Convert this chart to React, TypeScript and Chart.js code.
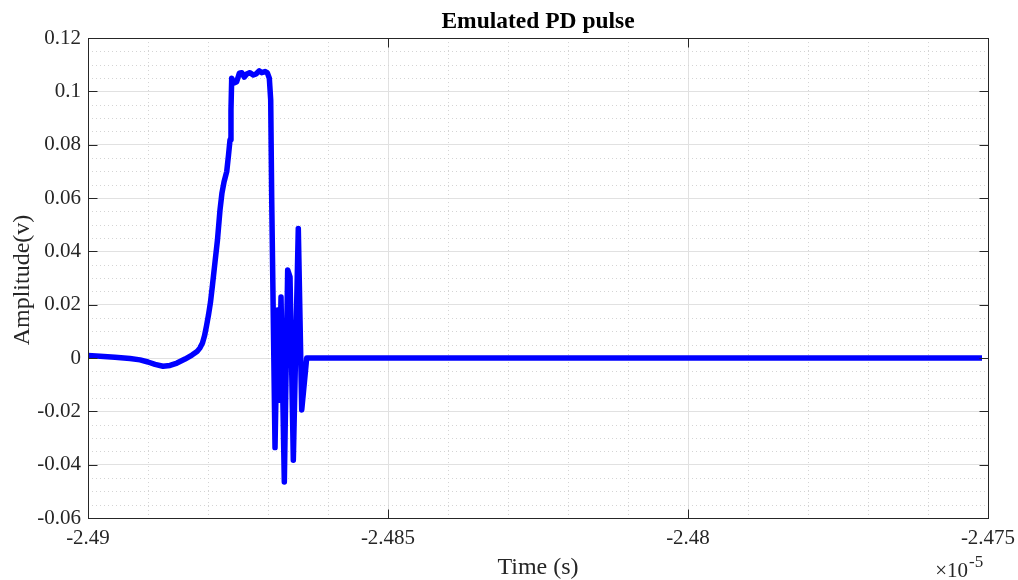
import React, { useEffect, useRef } from "react";
import { Chart, registerables } from "chart.js";

Chart.register(...registerables);

// Time axis values are in units of 1e-5 s (axis exponent shown as ×10^-5)
const TIME = [
  -2.49, -2.4898, -2.48955, -2.4893, -2.489133, -2.489, -2.488883, -2.48875,
  -2.488633, -2.488517, -2.488383, -2.488267, -2.488183, -2.488133, -2.488092,
  -2.488058, -2.488025, -2.487992, -2.487958, -2.487925, -2.487883, -2.487842,
  -2.4878, -2.487767, -2.487733, -2.487688, -2.487658, -2.487633, -2.487617,
  -2.487605, -2.487567, -2.487522, -2.487478, -2.487438, -2.487395, -2.487355,
  -2.4873, -2.487245, -2.4872, -2.487145, -2.487105, -2.48705, -2.487012,
  -2.486978, -2.486955, -2.486938, -2.486883, -2.486842, -2.486817, -2.486783,
  -2.486728, -2.486672, -2.486633, -2.486578, -2.486495, -2.486438, -2.486355,
  -2.4751,
];
const AMPLITUDE = [
  0.0009, 0.0007, 0.0003, -0.0002, -0.0007, -0.0015, -0.0024, -0.0031,
  -0.0028, -0.0019, -0.0004, 0.0011, 0.0024, 0.0038, 0.0056,
  0.0083, 0.012, 0.0161, 0.021, 0.0274, 0.0360, 0.0443,
  0.0555, 0.0619, 0.066, 0.0699, 0.0761, 0.0818, 0.093,
  0.1049, 0.1031, 0.1036, 0.1068, 0.107, 0.1053, 0.1065,
  0.107, 0.1061, 0.1065, 0.1077, 0.107, 0.1074, 0.107,
  0.1049, 0.0968, 0.0593, -0.0336, 0.018, -0.0158, 0.0229,
  -0.0465, 0.033, 0.0304, -0.0383, 0.0486, -0.0195, 0.0,
  0.0,
];

const X_TICKS = [-2.49, -2.485, -2.48, -2.475];
const Y_TICKS = [-0.06, -0.04, -0.02, 0, 0.02, 0.04, 0.06, 0.08, 0.1, 0.12];
const X_MINOR_STEP = 0.001;
const Y_MINOR_STEP = 0.005;

const TITLE = "Emulated PD pulse";
const X_LABEL = "Time (s)";
const Y_LABEL = "Amplitude(v)";
const X_EXP_BASE = "\u00d710";
const X_EXP_POWER = "-5";

const FONT = "'Liberation Serif', 'Times New Roman', serif";
const AXIS_COLOR = "#262626";

const framePlugin = {
  id: "matlabFrame",
  beforeDatasetsDraw(chart: any) {
    const { ctx, chartArea: a, scales } = chart;
    const xs = scales.x;
    const ys = scales.y;
    ctx.save();
    ctx.strokeStyle = "#d4d4d4";
    ctx.lineWidth = 1;
    ctx.setLineDash([1, 3]);
    const xMin = X_TICKS[0];
    const xMax = X_TICKS[X_TICKS.length - 1];
    const nx = Math.round((xMax - xMin) / X_MINOR_STEP);
    for (let i = 0; i <= nx; i++) {
      const v = xMin + i * X_MINOR_STEP;
      if (X_TICKS.some((t) => Math.abs(t - v) < 1e-7)) continue;
      const px = Math.round(xs.getPixelForValue(v)) + 0.5;
      ctx.beginPath();
      ctx.moveTo(px, a.top);
      ctx.lineTo(px, a.bottom);
      ctx.stroke();
    }
    const yMin = Y_TICKS[0];
    const yMax = Y_TICKS[Y_TICKS.length - 1];
    const ny = Math.round((yMax - yMin) / Y_MINOR_STEP);
    for (let i = 0; i <= ny; i++) {
      const v = yMin + i * Y_MINOR_STEP;
      if (Y_TICKS.some((t) => Math.abs(t - v) < 1e-7)) continue;
      const py = Math.round(ys.getPixelForValue(v)) + 0.5;
      ctx.beginPath();
      ctx.moveTo(a.left, py);
      ctx.lineTo(a.right, py);
      ctx.stroke();
    }
    ctx.restore();
  },
  afterDatasetsDraw(chart: any) {
    const { ctx, chartArea: a, scales } = chart;
    const xs = scales.x;
    const ys = scales.y;
    const L = 9;
    ctx.save();
    ctx.strokeStyle = AXIS_COLOR;
    ctx.lineWidth = 1;
    ctx.setLineDash([]);
    const l = Math.round(a.left) + 0.5;
    const r = Math.round(a.right) + 0.5;
    const t = Math.round(a.top) + 0.5;
    const b = Math.round(a.bottom) + 0.5;
    ctx.strokeRect(l, t, r - l, b - t);
    ctx.beginPath();
    X_TICKS.forEach((v) => {
      const px = Math.round(xs.getPixelForValue(v)) + 0.5;
      ctx.moveTo(px, b);
      ctx.lineTo(px, b - L);
      ctx.moveTo(px, t);
      ctx.lineTo(px, t + L);
    });
    Y_TICKS.forEach((v) => {
      const py = Math.round(ys.getPixelForValue(v)) + 0.5;
      ctx.moveTo(l, py);
      ctx.lineTo(l + L, py);
      ctx.moveTo(r, py);
      ctx.lineTo(r - L, py);
    });
    ctx.stroke();
    ctx.restore();
  },
  afterDraw(chart: any) {
    const { ctx, chartArea: a } = chart;
    const cx = (a.left + a.right) / 2;
    const cy = (a.top + a.bottom) / 2;
    ctx.save();
    ctx.fillStyle = "#000000";
    ctx.textAlign = "center";
    ctx.textBaseline = "alphabetic";
    ctx.font = `bold 23.5px ${FONT}`;
    ctx.fillText(TITLE, cx, 28);

    ctx.fillStyle = AXIS_COLOR;
    ctx.font = `24px ${FONT}`;
    ctx.fillText(X_LABEL, cx, 574);

    ctx.save();
    ctx.translate(29, cy + 2);
    ctx.rotate(-Math.PI / 2);
    ctx.fillText(Y_LABEL, 0, 0);
    ctx.restore();

    ctx.textAlign = "right";
    ctx.font = `21px ${FONT}`;
    ctx.fillText(X_EXP_BASE, 968, 577);
    ctx.textAlign = "left";
    ctx.font = `17px ${FONT}`;
    ctx.fillText(X_EXP_POWER, 969, 567);
    ctx.restore();
  },
};

function fmt(v: number, digits: number) {
  const n = Number(v.toFixed(digits));
  return (Object.is(n, -0) ? 0 : n).toString();
}

export default function App() {
  const canvasRef = useRef<HTMLCanvasElement | null>(null);

  useEffect(() => {
    const canvas = canvasRef.current;
    if (!canvas) return;
    const points = TIME.map((t, i) => ({ x: t, y: AMPLITUDE[i] }));
    const chart = new Chart(canvas, {
      type: "line",
      data: {
        datasets: [
          {
            data: points,
            borderColor: "#0000ff",
            backgroundColor: "#0000ff",
            borderWidth: 5.5,
            pointRadius: 0,
            tension: 0,
            fill: false,
            borderJoinStyle: "round",
            borderCapStyle: "butt",
          },
        ],
      },
      options: {
        responsive: false,
        animation: false,
        events: [],
        layout: { padding: { left: 0, right: 30, top: 38, bottom: 0 } },
        plugins: {
          legend: { display: false },
          title: { display: false },
          tooltip: { enabled: false },
        },
        scales: {
          x: {
            type: "linear",
            min: X_TICKS[0],
            max: X_TICKS[X_TICKS.length - 1],
            afterBuildTicks: (s: any) => {
              s.ticks = X_TICKS.map((v) => ({ value: v }));
            },
            afterFit: (s: any) => {
              s.height = 62;
              s.paddingLeft = 0;
              s.paddingRight = 0;
            },
            grid: { display: true, color: "#e1e1e1", lineWidth: 1, drawTicks: false },
            border: { display: false },
            ticks: {
              padding: 8,
              maxRotation: 0,
              autoSkip: false,
              color: AXIS_COLOR,
              font: { family: FONT, size: 21 },
              callback: (v: any) => fmt(Number(v), 3),
            },
          },
          y: {
            type: "linear",
            min: Y_TICKS[0],
            max: Y_TICKS[Y_TICKS.length - 1],
            afterBuildTicks: (s: any) => {
              s.ticks = Y_TICKS.map((v) => ({ value: v }));
            },
            afterFit: (s: any) => {
              s.width = 88;
              s.paddingTop = 0;
              s.paddingBottom = 0;
            },
            grid: { display: true, color: "#e1e1e1", lineWidth: 1, drawTicks: false },
            border: { display: false },
            ticks: {
              padding: 7,
              autoSkip: false,
              color: AXIS_COLOR,
              font: { family: FONT, size: 21 },
              callback: (v: any) => fmt(Number(v), 2),
            },
          },
        },
      },
      plugins: [framePlugin],
    });
    return () => chart.destroy();
  }, []);

  return (
    <div style={{ position: "absolute", left: 0, top: 0, width: 1018, height: 580, background: "#ffffff" }}>
      <canvas ref={canvasRef} width={1018} height={580} style={{ width: 1018, height: 580, display: "block" }} />
    </div>
  );
}
